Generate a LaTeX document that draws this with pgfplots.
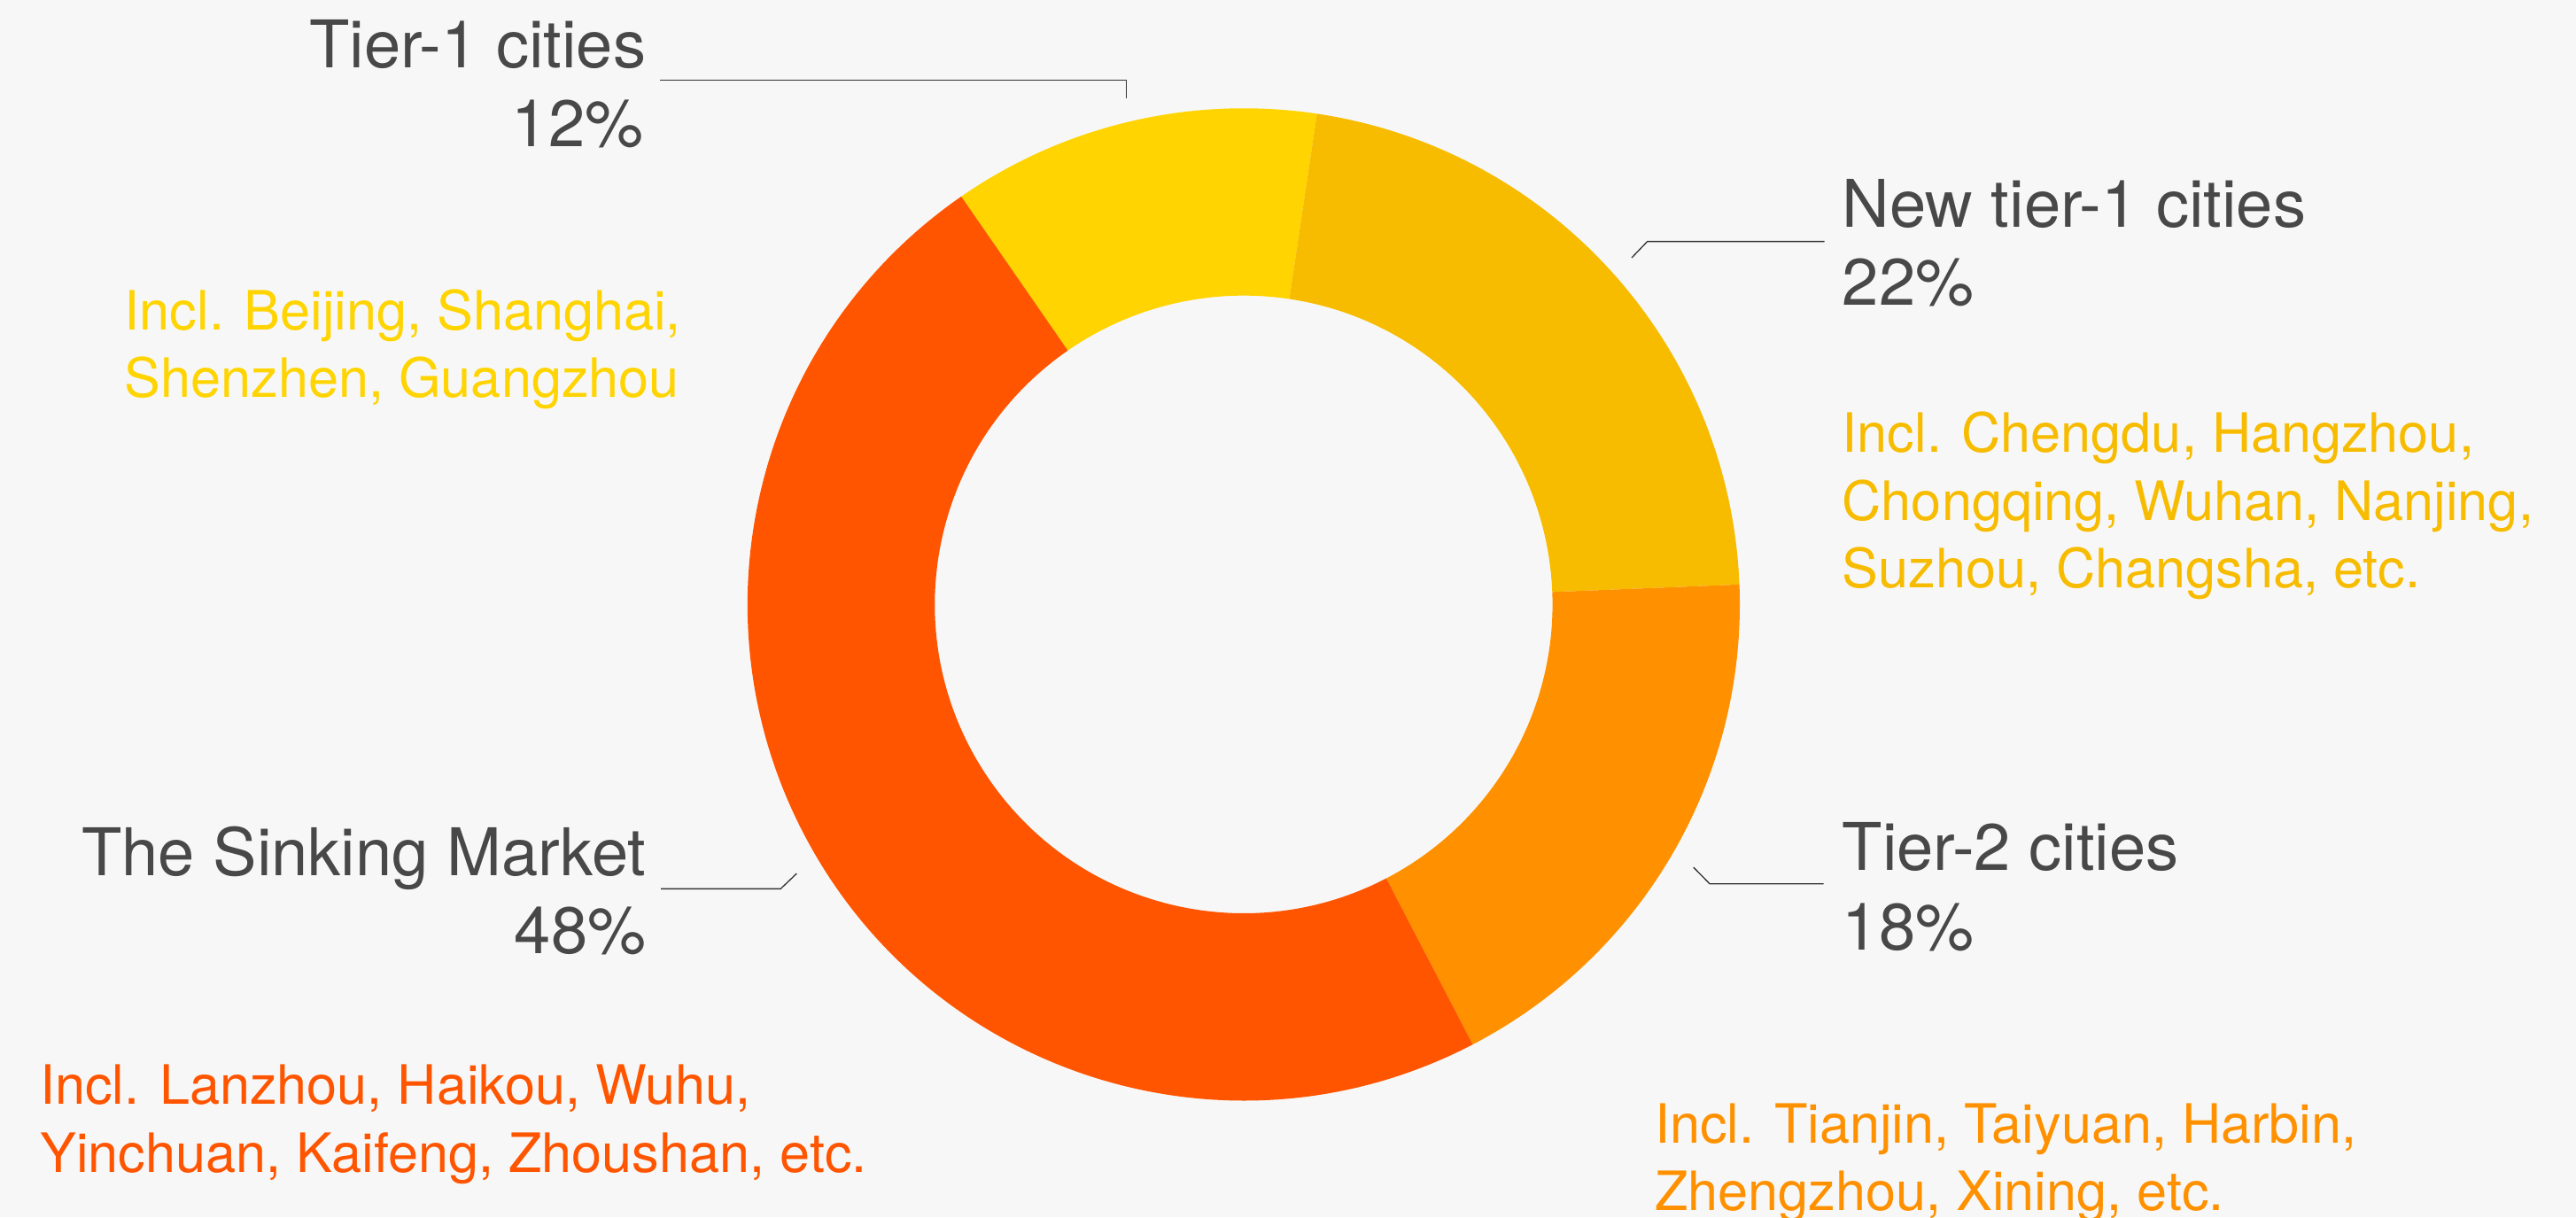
\documentclass[border=0pt]{standalone}
\usepackage{fontspec}
\setmainfont{TeX Gyre Heros}
\usepackage{pgfplots}
\usepackage{pgfplotstable}
\pgfplotsset{compat=1.18}

\definecolor{bg}{HTML}{F7F7F7}
\definecolor{seg0}{HTML}{FFD400}
\definecolor{seg1}{HTML}{F7BC00}
\definecolor{seg2}{HTML}{FF9100}
\definecolor{seg3}{HTML}{FF5500}
\definecolor{labelgray}{HTML}{484848}
\definecolor{leadgray}{HTML}{333333}

% share of each city group, clockwise from Tier-1
\pgfplotstableread{
segment share
Tier1 12
NewTier1 22
Tier2 18
Sinking 48
}\sharedata

% start/end angle of every ring segment
\def\firstangle{124.7}
\xdef\segcur{\firstangle}
\pgfplotsforeachungrouped \i in {0,...,3}{%
  \pgfplotstablegetelem{\i}{share}\of\sharedata
  \pgfmathsetmacro\segnew{\segcur-3.6*\pgfplotsretval}%
  \expandafter\xdef\csname segS\i\endcsname{\segcur}%
  \expandafter\xdef\csname segE\i\endcsname{\segnew}%
  \xdef\segcur{\segnew}%
}

\tikzset{
  title/.style={font=\fontsize{20}{24}\selectfont, text=labelgray, inner sep=0pt},
  note/.style={font=\fontsize{16.5}{20}\selectfont, inner sep=0pt},
  leader/.style={draw=leadgray, line width=0.35pt},
}

\begin{document}
\begin{tikzpicture}
\useasboundingbox (0,0) rectangle (784pt,370.5pt);
\clip (0,0) rectangle (784pt,370.5pt);
\fill[bg] (0,0) rectangle (784pt,370.5pt);
\begin{axis}[
  at={(0,0)}, anchor=south west,
  scale only axis, width=784pt, height=370.5pt,
  xmin=0, xmax=1568, ymin=0, ymax=741, y dir=reverse,
  hide axis, clip=false,
]
\coordinate (c) at (axis cs:757,367.9);
\pgfplotsinvokeforeach{0,...,3}{%
  \fill[seg#1] ([shift={(\csname segS#1\endcsname:151pt)}]c)
    arc[start angle=\csname segS#1\endcsname, end angle=\csname segE#1\endcsname, radius=151pt]
    -- ([shift={(\csname segE#1\endcsname:94pt)}]c)
    arc[start angle=\csname segE#1\endcsname, end angle=\csname segS#1\endcsname, radius=94pt]
    -- cycle;
}

% leader lines
\draw[leader] (axis cs:401.7,48.9) -- (axis cs:685.6,48.9) -- (axis cs:685.6,59.9);
\draw[leader] (axis cs:993.2,156.9) -- (axis cs:1002.7,147) -- (axis cs:1110.6,147);
\draw[leader] (axis cs:1030.8,527.9) -- (axis cs:1040.7,538) -- (axis cs:1110,538);
\draw[leader] (axis cs:402.3,541) -- (axis cs:475.2,541) -- (axis cs:484.9,531.7);

% Tier-1
\node[title, anchor=base east] at (axis cs:393.6,41) {Tier-1 cities};
\node[title, anchor=base east] at (axis cs:392,89) {12\%};
\node[note, text=seg0, anchor=base west] at (axis cs:75.5,200.6) {Incl. Beijing, Shanghai,};
\node[note, text=seg0, anchor=base west] at (axis cs:75.5,241.9) {Shenzhen, Guangzhou};

% New tier-1
\node[title, anchor=base west] at (axis cs:1121,138.4) {New tier-1 cities};
\node[title, anchor=base west] at (axis cs:1121,186) {22\%};
\node[note, text=seg1, anchor=base west] at (axis cs:1121,275) {Incl. Chengdu, Hangzhou,};
\node[note, text=seg1, anchor=base west] at (axis cs:1121,316.7) {Chongqing, Wuhan, Nanjing,};
\node[note, text=seg1, anchor=base west] at (axis cs:1121,358) {Suzhou, Changsha, etc.};

% Tier-2
\node[title, anchor=base west] at (axis cs:1121,529.5) {Tier-2 cities};
\node[title, anchor=base west] at (axis cs:1121,578.5) {18\%};
\node[note, text=seg2, anchor=base west] at (axis cs:1007,695.6) {Incl. Tianjin, Taiyuan, Harbin,};
\node[note, text=seg2, anchor=base west] at (axis cs:1007,737) {Zhengzhou, Xining, etc.};

% Sinking market
\node[title, anchor=base east] at (axis cs:393.7,532.8) {The Sinking Market};
\node[title, anchor=base east] at (axis cs:393.7,580.5) {48\%};
\node[note, text=seg3, anchor=base west] at (axis cs:24,672.2) {Incl. Lanzhou, Haikou, Wuhu,};
\node[note, text=seg3, anchor=base west] at (axis cs:24,713.5) {Yinchuan, Kaifeng, Zhoushan, etc.};
\end{axis}
\end{tikzpicture}
\end{document}
